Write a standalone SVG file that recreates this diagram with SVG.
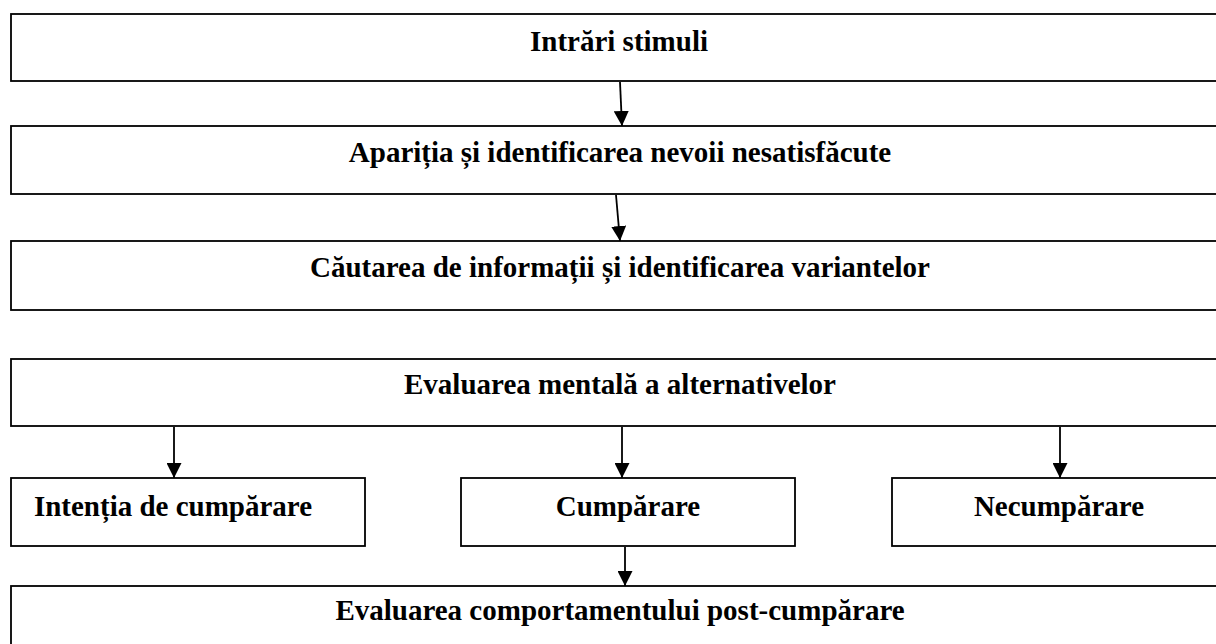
<svg xmlns="http://www.w3.org/2000/svg" width="1216" height="644" viewBox="0 0 1216 644">
<style>
.box{fill:#fff;stroke:#000;stroke-width:1.8}
.t{font-family:"Liberation Serif","Times New Roman",serif;font-weight:bold;font-size:29px;fill:#000;text-anchor:middle}
.c{stroke:#000;stroke-width:1.8;fill:none;marker-end:url(#ah)}
</style>
<defs>
<marker id="ah" markerWidth="15" markerHeight="15" refX="15" refY="7.5" orient="auto" markerUnits="userSpaceOnUse" viewBox="0 0 15 15">
<path d="M0,0 L15,7.5 L0,15 Z" fill="#000"/>
</marker>
</defs>
<rect width="1216" height="644" fill="#fff"/>
<g id="n1"><rect class="box" x="11" y="14" width="1220" height="67"/><text class="t" x="619" y="51">Intrări stimuli</text></g>
<g id="n2"><rect class="box" x="11" y="126" width="1220" height="68"/><text class="t" x="620" y="162">Apariția și identificarea nevoii nesatisfăcute</text></g>
<g id="n3"><rect class="box" x="11" y="241" width="1220" height="69"/><text class="t" x="620" y="277">Căutarea de informații și identificarea variantelor</text></g>
<g id="n4"><rect class="box" x="11" y="359" width="1220" height="67"/><text class="t" x="620" y="394">Evaluarea mentală a alternativelor</text></g>
<g id="n5"><rect class="box" x="11" y="478" width="354" height="68"/><text class="t" x="173" y="516">Intenția de cumpărare</text></g>
<g id="n6"><rect class="box" x="461" y="478" width="334" height="68"/><text class="t" x="628" y="516">Cumpărare</text></g>
<g id="n7"><rect class="box" x="892" y="478" width="340" height="68"/><text class="t" x="1059" y="516">Necumpărare</text></g>
<g id="n8"><rect class="box" x="11" y="586" width="1220" height="70"/><text class="t" x="620" y="620">Evaluarea comportamentului post-cumpărare</text></g>
<g id="connectors">
<line class="c" x1="620" y1="82" x2="622" y2="126"/>
<line class="c" x1="616" y1="195" x2="620" y2="241"/>
<line class="c" x1="174" y1="427" x2="174" y2="478"/>
<line class="c" x1="622" y1="427" x2="622" y2="478"/>
<line class="c" x1="1060" y1="427" x2="1060" y2="478"/>
<line class="c" x1="625" y1="547" x2="625" y2="586"/>
</g>
</svg>
